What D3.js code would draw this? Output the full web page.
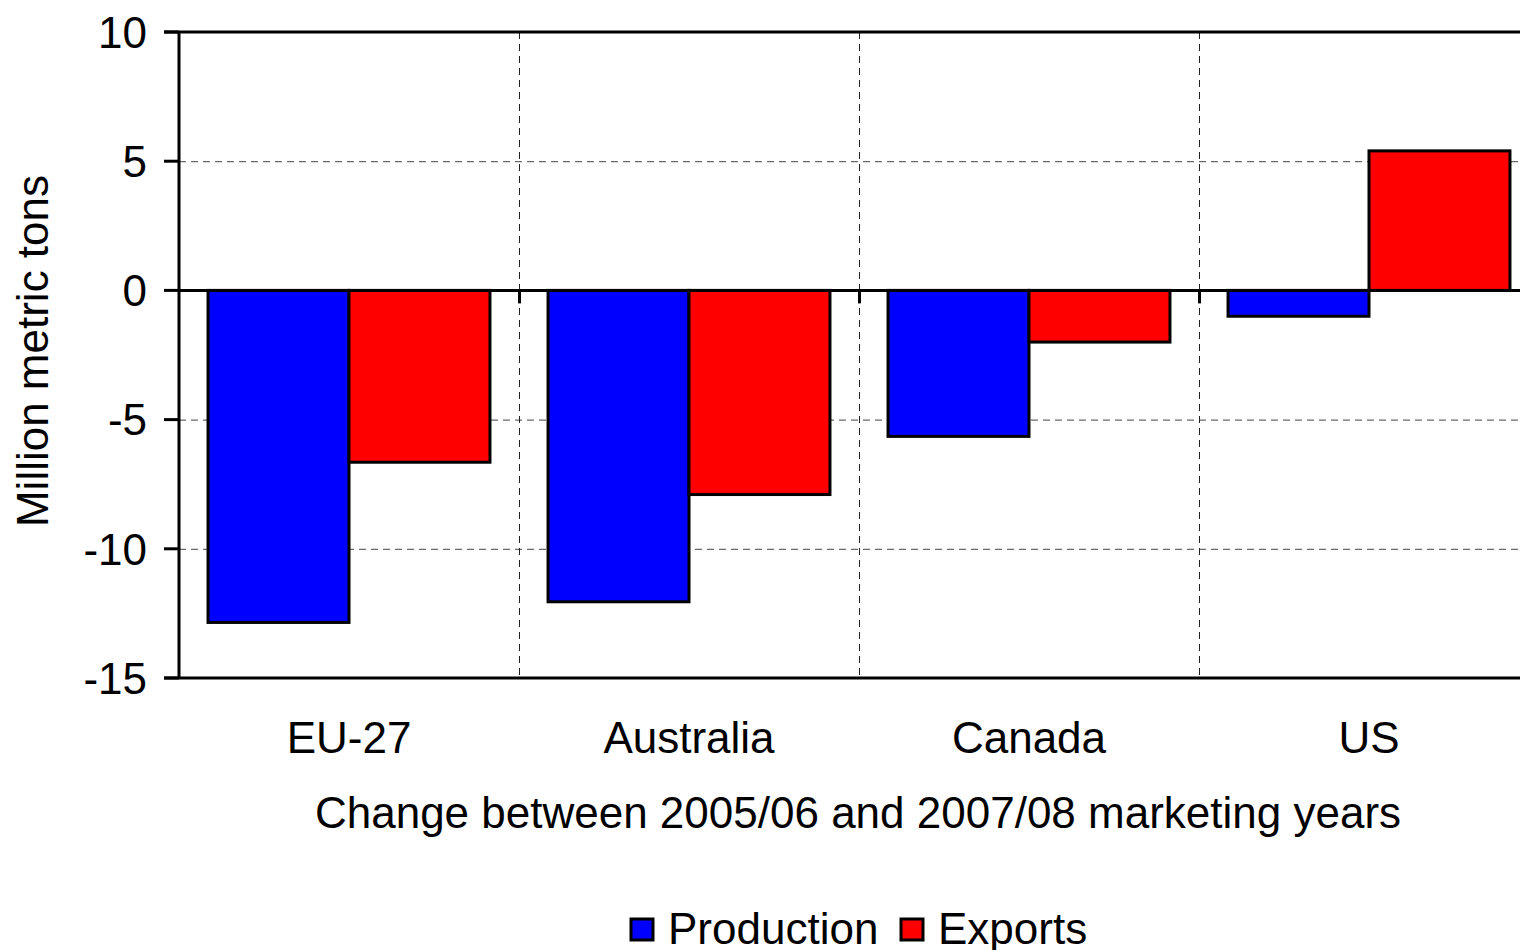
<!DOCTYPE html>
<html>
<head>
<meta charset="utf-8">
<script src="https://cdn.jsdelivr.net/npm/d3@7"></script>
<style>
  body { margin: 0; background: #fff; }
  svg { display: block; font-family: "Liberation Sans", Arial, sans-serif; }
</style>
</head>
<body>
<svg id="chart" width="1520" height="950"></svg>
<script>
var categories = ["EU-27", "Australia", "Canada", "US"];
var seriesNames = ["Production", "Exports"];
var production = [-12.85, -12.05, -5.65, -1.0];
var exportsVals = [-6.65, -7.9, -2.0, 5.4];
var yTicks = [10, 5, 0, -5, -10, -15];
var colors = { Production: "#0000ff", Exports: "#ff0000" };

var svg = d3.select("#chart");
var plotLeft = 179, plotTop = 32, plotBottom = 678;
var step = 340;
var fontSize = 44;

var x0 = d3.scaleBand().domain(categories)
	.range([plotLeft, plotLeft + step * categories.length]).paddingInner(0).paddingOuter(0);
var x1 = d3.scaleBand().domain(seriesNames)
	.range([0, x0.bandwidth()]).paddingInner(0).paddingOuter(0.206);
var y = d3.scaleLinear().domain([-15, 10]).range([plotBottom, plotTop]);
var plotRight = x0.range()[1];

var rows = categories.map((c, i) => ({ cat: c, Production: production[i], Exports: exportsVals[i] }));

// grid lines
svg.append("g").selectAll("line").data(yTicks.filter(d => d != 0 && d != 10 && d != -15)).join("line")
	.attr("x1", plotLeft).attr("x2", plotRight)
	.attr("y1", d => y(d) + 0.5).attr("y2", d => y(d) + 0.5)
	.attr("stroke", "#444").attr("stroke-width", 1).attr("stroke-dasharray", "7,5");
svg.append("g").selectAll("line").data(categories.slice(1)).join("line")
	.attr("x1", d => x0(d) + 0.5).attr("x2", d => x0(d) + 0.5)
	.attr("y1", plotTop).attr("y2", plotBottom)
	.attr("stroke", "#222").attr("stroke-width", 1).attr("stroke-dasharray", "7,5");

// bars
svg.append("g").selectAll("g").data(rows).join("g")
	.attr("transform", d => `translate(${x0(d.cat)},0)`)
	.selectAll("rect").data(d => seriesNames.map(s => ({ s: s, v: d[s] }))).join("rect")
	.attr("x", d => x1(d.s))
	.attr("width", x1.bandwidth())
	.attr("y", d => y(Math.max(0, d.v)))
	.attr("height", d => Math.abs(y(d.v) - y(0)))
	.attr("fill", d => colors[d.s])
	.attr("stroke", "#000").attr("stroke-width", 3);

// frame lines
svg.append("line").attr("x1", plotLeft - 15).attr("x2", plotRight).attr("y1", plotTop).attr("y2", plotTop)
	.attr("stroke", "#000").attr("stroke-width", 3);
svg.append("line").attr("x1", plotLeft - 15).attr("x2", plotRight).attr("y1", plotBottom).attr("y2", plotBottom)
	.attr("stroke", "#000").attr("stroke-width", 3);
svg.append("line").attr("x1", plotLeft).attr("x2", plotLeft).attr("y1", plotTop).attr("y2", plotBottom)
	.attr("stroke", "#000").attr("stroke-width", 3);

// zero line + category boundary ticks
svg.append("line").attr("x1", plotLeft).attr("x2", plotRight).attr("y1", y(0)).attr("y2", y(0))
	.attr("stroke", "#000").attr("stroke-width", 3);
svg.append("g").selectAll("line").data(categories.slice(1)).join("line")
	.attr("x1", d => x0(d) + 0.5).attr("x2", d => x0(d) + 0.5)
	.attr("y1", y(0)).attr("y2", y(0) + 13)
	.attr("stroke", "#000").attr("stroke-width", 3);

// y ticks and labels
var yAxis = svg.append("g");
yAxis.selectAll("line").data(yTicks).join("line")
	.attr("x1", plotLeft - 15).attr("x2", plotLeft)
	.attr("y1", d => y(d)).attr("y2", d => y(d))
	.attr("stroke", "#000").attr("stroke-width", 3);
yAxis.selectAll("text").data(yTicks).join("text")
	.attr("x", 147).attr("y", d => y(d)).attr("dy", "0.36em")
	.attr("text-anchor", "end").attr("font-size", fontSize)
	.text(d => d);

// category labels
svg.append("g").selectAll("text").data(categories).join("text")
	.attr("x", d => x0(d) + x0.bandwidth() / 2).attr("y", 753)
	.attr("text-anchor", "middle").attr("font-size", fontSize)
	.text(d => d);

svg.append("text").attr("x", 858).attr("y", 828)
	.attr("text-anchor", "middle").attr("font-size", fontSize)
	.text("Change between 2005/06 and 2007/08 marketing years");

svg.append("text")
	.attr("transform", `translate(48,${(plotTop + plotBottom) / 2 - 4}) rotate(-90)`)
	.attr("text-anchor", "middle").attr("font-size", fontSize)
	.text("Million metric tons");

// legend
var legend = svg.append("g");
var legendX = [631, 901];
seriesNames.forEach((s, i) => {
	let g = legend.append("g").attr("transform", `translate(${legendX[i]},919)`);
	g.append("rect").attr("width", 22).attr("height", 21)
		.attr("fill", colors[s]).attr("stroke", "#000").attr("stroke-width", 3);
	g.append("text").attr("x", 37).attr("y", 25).attr("font-size", fontSize).text(s);
});
</script>
</body>
</html>
